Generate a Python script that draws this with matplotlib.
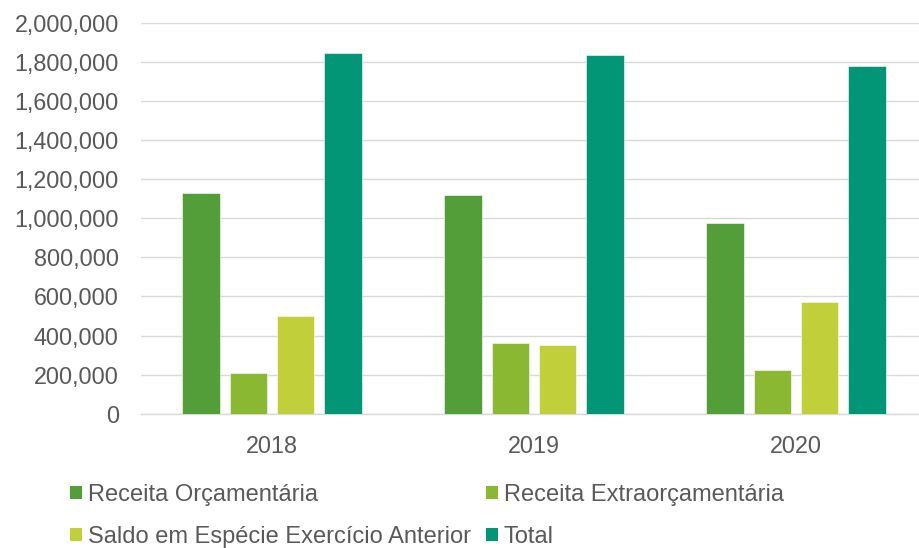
import numpy as np
import matplotlib
matplotlib.use("Agg")
import matplotlib.pyplot as plt
from matplotlib.patches import Patch
from matplotlib.ticker import FuncFormatter

anos = ["2018", "2019", "2020"]
series = ["Receita Orçamentária", "Receita Extraorçamentária",
          "Saldo em Espécie Exercício Anterior", "Total"]
receita_orc = [1132000, 1118000, 978000]
receita_extra = [209000, 361000, 222000]
saldo_anterior = [501000, 354000, 573000]
total = [1848000, 1838000, 1781000]
cores = ["#549E39", "#8AB833", "#C0CF3A", "#029676"]

plt.rcParams["font.family"] = ["Liberation Sans", "DejaVu Sans"]
texto = "#595959"

fig = plt.figure(figsize=(9.2, 5.48), dpi=100)
ax = fig.add_axes([141 / 920, 134.3 / 548, 779 / 920, 390.7 / 548])

x = np.arange(len(anos))
largura = 0.143
passo = 0.181
valores = [receita_orc, receita_extra, saldo_anterior, total]
for i, (vals, cor) in enumerate(zip(valores, cores)):
    ax.bar(x + (i - 1.5) * passo, vals, width=largura, color=cor,
           edgecolor="#ffffff", linewidth=0.4, zorder=3)

ax.set_ylim(0, 2000000)
ax.set_xlim(-0.5, 2.5 - 7 / 262)
ax.set_yticks(np.arange(0, 2000001, 200000))
ax.yaxis.set_major_formatter(FuncFormatter(lambda v, p: f"{int(v):,}"))
ax.set_xticks(x)
ax.set_xticklabels(anos)
ax.grid(axis="y", color="#D9D9D9", linewidth=1.0, zorder=0)
for s in ["top", "right", "left"]:
    ax.spines[s].set_visible(False)
ax.spines["bottom"].set_color("#D9D9D9")
ax.spines["bottom"].set_linewidth(1.0)
ax.tick_params(axis="both", length=0, labelsize=16.8, colors=texto)
ax.tick_params(axis="y", pad=16)
ax.tick_params(axis="x", pad=15)

# legenda em duas colunas abaixo do gráfico
ordem = [0, 2, 1, 3]
handles = [Patch(facecolor=cores[i], edgecolor="none") for i in ordem]
labels = [series[i] for i in ordem]
fig.legend(handles, labels, ncol=2, loc="center left",
           bbox_to_anchor=(70 / 920, (548 - 516) / 548), frameon=False,
           fontsize=17, labelcolor=texto, borderpad=0, borderaxespad=0,
           handlelength=0.5, handleheight=0.5, handletextpad=0.25,
           columnspacing=0.65, labelspacing=0.85)

fig.savefig("out.png", dpi=100)
